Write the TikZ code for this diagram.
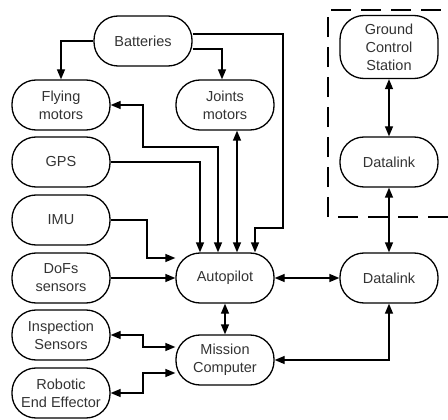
\documentclass[tikz,border=0pt]{standalone}
\usepackage{fontspec}
\setmainfont{Liberation Sans}
\usetikzlibrary{arrows.meta}
\begin{document}
\begin{tikzpicture}[x=1pt,y=-1pt,
  blk/.style={draw, line width=1.3pt, rounded corners=24pt,
    minimum width=98pt, minimum height=50pt, inner sep=1pt,
    align=center, font=\fontsize{14.5}{18}\selectfont, text=black!80},
  link/.style={line width=1.3pt, -{Triangle[length=10pt,width=8pt]}},
  both/.style={line width=1.3pt, {Triangle[length=10pt,width=8pt]}-{Triangle[length=10pt,width=8pt]}},
  ground/.style={line width=2.5pt, dash pattern=on 20pt off 10pt}]
\useasboundingbox (0,0) rectangle (448,420);

% blocks
\node[blk] (bat) at (143,41) {Batteries};
\node[blk] (fm)  at (61,105) {Flying\\motors};
\node[blk] (jm)  at (225,105) {Joints\\motors};
\node[blk] (gps) at (61,162) {GPS};
\node[blk] (imu) at (61,220) {IMU};
\node[blk] (dof) at (61,278) {DoFs\\sensors};
\node[blk] (ins) at (61,335) {Inspection\\Sensors};
\node[blk] (ree) at (61,393) {Robotic\\End Effector};
\node[blk] (ap)  at (225,278) {Autopilot};
\node[blk] (mc)  at (225,360) {Mission\\Computer};
\node[blk] (dl)  at (389,278) {Datalink};
\node[blk] (dlu) at (389,162) {Datalink};
\node[blk, minimum height=63pt] (gcs) at (389,47) {Ground\\Control\\Station};

% ground segment frame
\draw[ground] (448,217) -| (328,10) -- (448,10);

% power lines
\draw[link] (bat.west) -| (fm.north);
\draw[link] ([yshift=-8pt]bat.east) -| ([xshift=-3pt]jm.north);
\draw[link] ([yshift=7pt]bat.east) -| (283,228) -| ([xshift=30pt]ap.north);

% autopilot links
\draw[both] (fm.east) -| (143,147) -| ([xshift=-7pt]ap.north);
\draw[link] (gps.east) -| ([xshift=-25pt]ap.north);
\draw[both] ([xshift=12pt]jm.south) -- ([xshift=12pt]ap.north);
\draw[link] (imu.east) -| (147,258) -- ([yshift=20pt]ap.west);
\draw[link] (dof.east) -- (ap.west);
\draw[both] (ap.east) -- (dl.west);
\draw[both] (ap.south) -- (mc.north);

% mission computer links
\draw[both] (ins.east) -| (143,347) -- ([yshift=13pt]mc.west);
\draw[both] (ree.east) -| (143,373) -- ([yshift=-13pt]mc.west);
\draw[both] (mc.east) -| (dl.south);

% datalink chain
\draw[both] (dl.north) -- (dlu.south);
\draw[both] (dlu.north) -- (gcs.south);
\end{tikzpicture}
\end{document}
